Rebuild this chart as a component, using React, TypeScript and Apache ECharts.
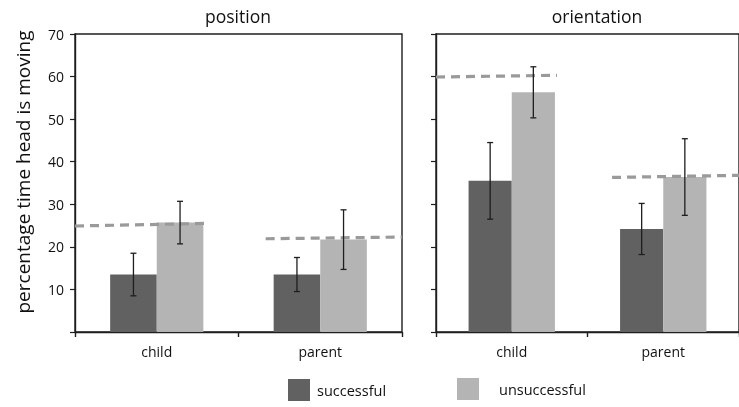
import React, { useEffect, useRef } from "react";
import * as echarts from "echarts";

const categories = ["child", "parent"];
const yTicks = [10, 20, 30, 40, 50, 60, 70];

const posSuccessful = [13.5, 13.5];
const posSuccessfulErr = [5, 4];
const posUnsuccessful = [25.7, 21.7];
const posUnsuccessfulErr = [5, 7];
const posChanceStart = [24.9, 21.9];
const posChanceEnd = [25.5, 22.3];

const oriSuccessful = [35.5, 24.2];
const oriSuccessfulErr = [9, 6];
const oriUnsuccessful = [56.3, 36.4];
const oriUnsuccessfulErr = [6, 9];
const oriChanceStart = [59.9, 36.3];
const oriChanceEnd = [60.3, 36.8];

const DARK = "#616161";
const LIGHT = "#b4b4b4";
const FONT = "'Open Sans', 'Noto Sans', sans-serif";
const GAP = 0.43;

function errSeries(vals: number[], errs: number[], side: number, gi: number) {
  return {
    type: "custom",
    xAxisIndex: gi,
    yAxisIndex: gi,
    z: 5,
    silent: true,
    data: vals.map((v, i) => [i, v, errs[i]]),
    encode: { x: 0, y: 1 },
    renderItem: (params: any, api: any) => {
      const cat = api.value(0);
      const v = api.value(1);
      const e = api.value(2);
      const band = api.size([1, 0])[0];
      const barW = (band * (1 - GAP)) / 2;
      const c = api.coord([cat, v]);
      const x = c[0] + side * (barW / 2);
      const yt = api.coord([cat, v + e])[1];
      const yb = api.coord([cat, v - e])[1];
      const st = { stroke: "#1e1e1e", lineWidth: 1.3 };
      return {
        type: "group",
        children: [
          { type: "line", shape: { x1: x, y1: yt, x2: x, y2: yb }, style: st },
          { type: "line", shape: { x1: x - 3, y1: yt, x2: x + 3, y2: yt }, style: st },
          { type: "line", shape: { x1: x - 3, y1: yb, x2: x + 3, y2: yb }, style: st },
        ],
      };
    },
  };
}

function chanceSeries(starts: number[], ends: number[], gi: number) {
  return {
    type: "custom",
    xAxisIndex: gi,
    yAxisIndex: gi,
    z: 4,
    silent: true,
    data: starts.map((s, i) => [i, s, ends[i]]),
    encode: { x: 0, y: 1 },
    renderItem: (params: any, api: any) => {
      const cat = api.value(0);
      const s = api.value(1);
      const e = api.value(2);
      const band = api.size([1, 0])[0];
      const barW = (band * (1 - GAP)) / 2;
      const cx = api.coord([cat, 0])[0];
      let x0: number, x1: number;
      if (cat === 0) {
        x0 = cx - band / 2;
        x1 = cx + barW + 2;
      } else {
        x0 = cx - barW - 8;
        x1 = cx + band / 2;
      }
      return {
        type: "line",
        shape: { x1: x0, y1: api.coord([cat, s])[1], x2: x1, y2: api.coord([cat, e])[1] },
        style: { stroke: "#9a9a9a", lineWidth: 3.2, lineDash: [9, 6] },
      };
    },
  };
}

export default function App() {
  const ref = useRef<HTMLDivElement>(null);
  useEffect(() => {
    if (!ref.current) return;
    const chart = echarts.init(ref.current, null, { renderer: "svg" });
    const axisLine = { show: true, lineStyle: { color: "#1e1e1e", width: 1.4 } };
    const xAxisBase = (gi: number) => ({
      type: "category",
      gridIndex: gi,
      data: categories,
      axisLine,
      axisTick: { show: true, length: 5, lineStyle: { color: "#1e1e1e", width: 1.4 } },
      axisLabel: { margin: 12, fontSize: 14, color: "#111", fontFamily: FONT },
    });
    const yAxisBase = (gi: number, labels: boolean) => ({
      type: "value",
      gridIndex: gi,
      min: 0,
      max: 70,
      interval: 10,
      splitLine: { show: false },
      axisLine,
      axisTick: { show: true, length: 5, inside: false, lineStyle: { color: "#1e1e1e", width: 1.2 } },
      axisLabel: {
        show: labels,
        margin: 11,
        fontSize: 14,
        fontWeight: 500,
        color: "#111",
        fontFamily: FONT,
        formatter: (v: number) => (yTicks.includes(v) ? String(v) : ""),
      },
    });
    const barBase = (name: string, data: number[], color: string, gi: number) => ({
      type: "bar",
      name,
      xAxisIndex: gi,
      yAxisIndex: gi,
      data,
      barGap: "0%",
      barCategoryGap: GAP * 100 + "%",
      itemStyle: { color },
      z: 2,
    });
    const legendBase = {
      itemWidth: 22,
      itemHeight: 22,
      icon: "rect",
      padding: 0,
      selectedMode: false,
    };
    chart.setOption({
      animation: false,
      grid: [
        { left: 75, right: 337, top: 34, bottom: 75, show: true, borderColor: "#1e1e1e", borderWidth: 1.4, backgroundColor: "transparent" },
        { left: 436, right: -11, top: 34, bottom: 75, show: true, borderColor: "#1e1e1e", borderWidth: 1.4, backgroundColor: "transparent" },
      ],
      xAxis: [xAxisBase(0), xAxisBase(1)],
      yAxis: [yAxisBase(0, true), yAxisBase(1, false)],
      legend: [
        {
          ...legendBase,
          data: ["successful"],
          left: 288,
          top: 379,
          textStyle: { fontSize: 14.5, color: "#111", fontFamily: FONT, padding: [0, 0, 0, 2] },
        },
        {
          ...legendBase,
          data: ["unsuccessful"],
          left: 457,
          top: 378,
          textStyle: { fontSize: 14.5, color: "#111", fontFamily: FONT, padding: [0, 0, 0, 15] },
        },
      ],
      graphic: [
        { type: "text", x: 238, y: 16, style: { text: "position", fontSize: 17.5, fontFamily: FONT, fill: "#111", textAlign: "center", textVerticalAlign: "middle" } },
        { type: "text", x: 597, y: 16, style: { text: "orientation", fontSize: 17.5, fontFamily: FONT, fill: "#111", textAlign: "center", textVerticalAlign: "middle" } },
        {
          type: "text",
          x: 23,
          y: 172,
          rotation: Math.PI / 2,
          style: { text: "percentage time head is moving", fontSize: 19, fontFamily: FONT, fill: "#111", textAlign: "center", textVerticalAlign: "middle" },
        },
      ],
      series: [
        barBase("successful", posSuccessful, DARK, 0),
        barBase("unsuccessful", posUnsuccessful, LIGHT, 0),
        barBase("successful", oriSuccessful, DARK, 1),
        barBase("unsuccessful", oriUnsuccessful, LIGHT, 1),
        chanceSeries(posChanceStart, posChanceEnd, 0),
        chanceSeries(oriChanceStart, oriChanceEnd, 1),
        errSeries(posSuccessful, posSuccessfulErr, -1, 0),
        errSeries(posUnsuccessful, posUnsuccessfulErr, 1, 0),
        errSeries(oriSuccessful, oriSuccessfulErr, -1, 1),
        errSeries(oriUnsuccessful, oriUnsuccessfulErr, 1, 1),
      ],
    });
    return () => chart.dispose();
  }, []);
  return <div ref={ref} style={{ position: "fixed", left: 0, top: 0, width: 739, height: 407 }} />;
}
